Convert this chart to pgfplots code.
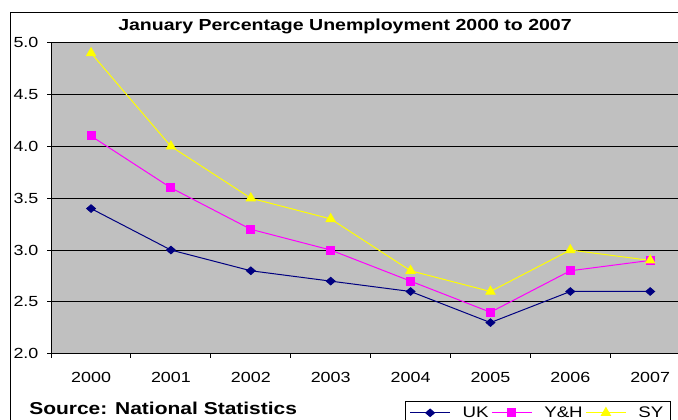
\documentclass[border=0pt]{standalone}
\usepackage{pgfplots}
\pgfplotsset{compat=1.18}
\usepackage{fontspec}
\setmainfont[FakeStretch=1.22]{Liberation Sans}
\definecolor{plotbg}{RGB}{192,192,192}
\definecolor{ukc}{RGB}{0,0,128}
\definecolor{yhc}{RGB}{255,0,255}
\definecolor{syc}{RGB}{255,255,0}
\begin{document}
\begin{tikzpicture}[x=0.75pt,y=0.75pt]
\useasboundingbox (0,0) rectangle (678,419);
\clip (0,0) rectangle (678,419);
\fill[white] (0,0) rectangle (678,419);
\draw[black, line width=0.75pt] (10,407) rectangle (720,-20);
\begin{axis}[
  at={(64,63)}, anchor=south west,
  scale only axis, width=479.25pt, height=233.25pt,
  xmin=-0.5, xmax=7.5, ymin=2, ymax=5,
  axis background/.style={fill=plotbg, draw=gray, line width=0.75pt},
  axis x line*=bottom, axis y line*=left,
  axis line style={black, line width=0.75pt, -},
  tick align=outside,
  xtick={0,...,7},
  xticklabels={2000,2001,2002,2003,2004,2005,2006,2007},
  major x tick style={draw=none},
  minor xtick={-0.5,0.5,...,7.5},
  minor tick length=3pt,
  major tick length=3pt,
  tick style={black, line width=0.75pt},
  ytick={2,2.5,...,5},
  yticklabels={2.0,2.5,3.0,3.5,4.0,4.5,5.0},
  ymajorgrids,
  major grid style={black, line width=0.6pt},
  ticklabel style={font=\fontsize{11pt}{13pt}\selectfont},
  xticklabel style={yshift=-7.5pt},
  yticklabel style={xshift=-3pt},
  legend columns=3,
  legend style={at={(0.554,-0.151)}, anchor=north west, draw=black, line width=0.75pt,
    font=\fontsize{11.5pt}{13pt}\selectfont, inner xsep=3pt, inner ysep=2pt,
    /tikz/every odd column/.append style={column sep=7pt}},
  legend cell align=left,
  legend image code/.code={\draw[#1, mark repeat=2, mark phase=2] plot coordinates {(0pt,0pt)(15pt,0pt)(30pt,0pt)};},
]
\addplot[ukc, line width=0.75pt, mark=diamond*, mark size=2.8pt, mark options={fill=ukc, draw=ukc, xscale=1.55}]
  coordinates {(0,3.4)(1,3.0)(2,2.8)(3,2.7)(4,2.6)(5,2.3)(6,2.6)(7,2.6)};
\addlegendentry{UK}
\addplot[yhc, line width=0.75pt, mark=square*, mark size=3pt, mark options={fill=yhc, draw=yhc}]
  coordinates {(0,4.1)(1,3.6)(2,3.2)(3,3.0)(4,2.7)(5,2.4)(6,2.8)(7,2.9)};
\addlegendentry{Y\&H}
\addplot[syc, line width=0.75pt, mark=triangle*, mark size=3.9pt, mark options={fill=syc, draw=syc}]
  coordinates {(0,4.9)(1,4.0)(2,3.5)(3,3.3)(4,2.8)(5,2.6)(6,3.0)(7,2.9)};
\addlegendentry{SY}
\end{axis}
\node[anchor=base, font=\bfseries\fontsize{12pt}{14pt}\selectfont] at (345,388) {January Percentage Unemployment 2000 to 2007};
\node[anchor=base west, inner sep=0pt, font=\bfseries\fontsize{12.9pt}{14pt}\selectfont] at (29,5) {Source: National Statistics};
\end{tikzpicture}
\end{document}
